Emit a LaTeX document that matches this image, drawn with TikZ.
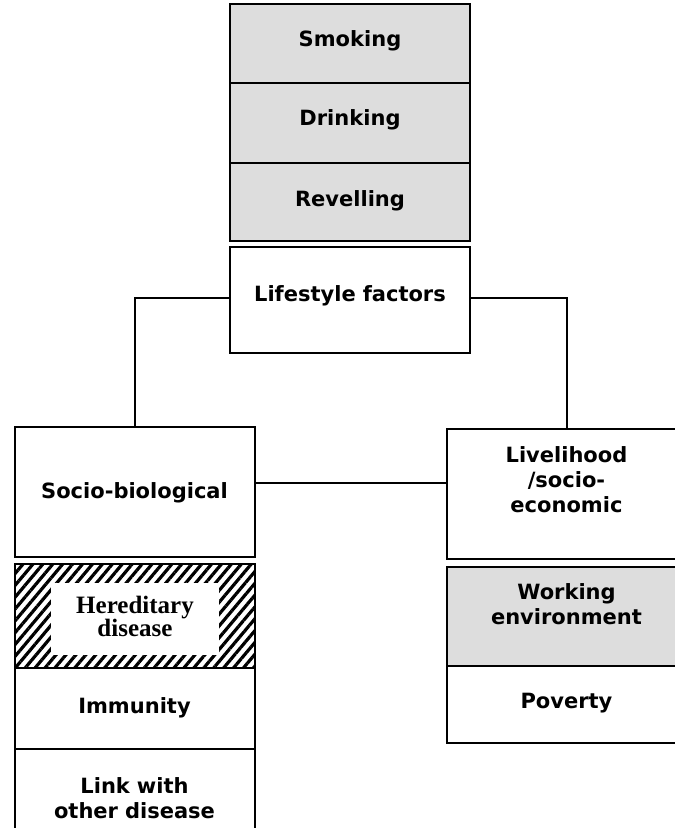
\documentclass[tikz,border=0pt]{standalone}
\usepackage{fontspec}
\usepackage{tikz}
\usetikzlibrary{patterns.meta}
\newfontfamily\boxfont{DejaVu Sans}
\newfontfamily\heredfont{Liberation Serif}
\definecolor{factorgray}{RGB}{221,221,221}

\begin{document}
\begin{tikzpicture}[x=1pt, y=-1pt,
    factor/.style={draw, line width=2pt, inner sep=0pt, text width=236pt, align=center,
      minimum width=240pt, font={\boxfont\bfseries\fontsize{21pt}{25pt}\selectfont}},
    shaded/.style={factor, fill=factorgray},
    textdrop/.style={text depth=0pt, text height=#1},
    textlift/.style={text height=0pt, text depth=#1},
    connector/.style={line width=2pt}
  ]
  \path[use as bounding box, fill=white] (0,0) rectangle (675,828);

  % lifestyle column
  \node[shaded, minimum height=79pt, textdrop=5pt] (smoking) at (350,43.5) {Smoking};
  \node[shaded, minimum height=80pt, textdrop=4pt] (drinking) at (350,123) {Drinking};
  \node[shaded, minimum height=78pt, textdrop=8pt] (revelling) at (350,202) {Revelling};
  \node[factor, minimum height=106pt, textdrop=2pt] (lifestyle) at (350,300) {Lifestyle factors};

  % socio-biological column
  \node[factor, minimum height=130pt, textdrop=12pt] (socio) at (134.5,492) {Socio-biological};
  \node[factor, minimum height=104pt,
    pattern={Lines[angle=50, distance=7.6pt, line width=3.2pt]}] (hereditary) at (134.5,616) {};
  \node[fill=white, inner sep=0pt, minimum width=168pt, minimum height=72pt,
    text width=160pt, align=center, textlift=11pt,
    font={\heredfont\bfseries\fontsize{25pt}{23pt}\selectfont}] (hereditary-label) at (135,619) {Hereditary\\disease};
  \node[factor, minimum height=81pt, textdrop=9pt] (immunity) at (134.5,708.5) {Immunity};
  \node[factor, minimum height=90pt, textlift=2pt] (link) at (134.5,794) {Link with\\other disease};

  % livelihood column
  \node[factor, minimum height=130pt, textlift=64pt] (livelihood) at (566.5,494) {Livelihood\\/socio-\\economic};
  \node[shaded, minimum height=99pt, textlift=35pt] (working) at (566.5,616.5) {Working\\environment};
  \node[factor, minimum height=77pt, textdrop=7pt] (poverty) at (566.5,704.5) {Poverty};

  % connectors
  \draw[connector] ([yshift=2pt]lifestyle.west) -| (socio.north);
  \draw[connector] ([yshift=2pt]lifestyle.east) -| (livelihood.north);
  \draw[connector] ([yshift=9pt]socio.east) -- ([yshift=9pt]socio.east -| livelihood.west);
\end{tikzpicture}
\end{document}
